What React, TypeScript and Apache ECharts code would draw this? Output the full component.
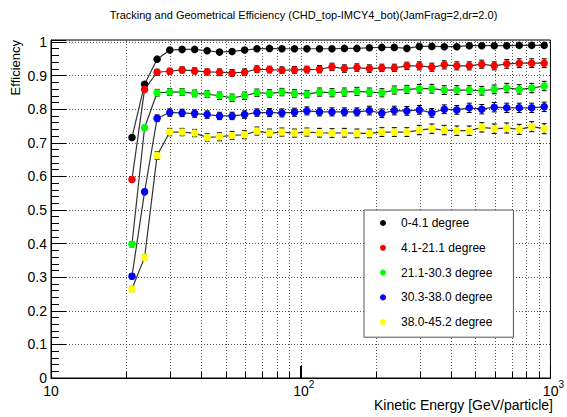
import React, { useEffect, useRef } from 'react';
import * as echarts from 'echarts';

const FONT = '"Liberation Sans", Arial, Helvetica, sans-serif';

const titleText = 'Tracking and Geometrical Efficiency (CHD_top-IMCY4_bot)(JamFrag=2,dr=2.0)';
const xTitle = 'Kinetic Energy [GeV/particle]';
const yTitle = 'Efficiency';

// bin centres (GeV/particle)
const energy = [21.1, 23.7, 26.6, 29.9, 33.5, 37.6, 42.2, 47.3, 53.1, 59.6, 66.8, 75.0, 84.1, 94.4,
  105.9, 118.9, 133.4, 149.6, 167.9, 188.4, 211.3, 237.1, 266.1, 298.5, 335.0, 375.8, 421.7, 473.2,
  530.9, 595.7, 668.3, 749.9, 841.4, 944.1];

const seriesNames = ['0-4.1 degree', '4.1-21.1 degree', '21.1-30.3 degree', '30.3-38.0 degree', '38.0-45.2 degree'];
const seriesColors = ['#000000', '#ff0000', '#00ff00', '#0000ff', '#ffff00'];

const eff0 = [0.716, 0.874, 0.949, 0.976, 0.978, 0.978, 0.974, 0.970, 0.972, 0.976, 0.980, 0.981, 0.980, 0.980,
  0.980, 0.980, 0.980, 0.981, 0.981, 0.983, 0.984, 0.984, 0.981, 0.987, 0.987, 0.986, 0.986, 0.989, 0.989,
  0.989, 0.989, 0.990, 0.990, 0.990];
const eff1 = [0.591, 0.859, 0.910, 0.913, 0.917, 0.914, 0.911, 0.910, 0.908, 0.910, 0.919, 0.918, 0.916, 0.917,
  0.918, 0.919, 0.926, 0.921, 0.924, 0.921, 0.923, 0.923, 0.929, 0.929, 0.925, 0.932, 0.929, 0.929, 0.934,
  0.929, 0.935, 0.937, 0.937, 0.937];
const eff2 = [0.398, 0.745, 0.849, 0.851, 0.851, 0.847, 0.845, 0.840, 0.834, 0.840, 0.849, 0.847, 0.851, 0.847,
  0.845, 0.851, 0.849, 0.851, 0.853, 0.851, 0.849, 0.857, 0.859, 0.861, 0.861, 0.857, 0.857, 0.857, 0.855,
  0.859, 0.863, 0.859, 0.863, 0.869];
const eff3 = [0.303, 0.554, 0.773, 0.790, 0.789, 0.787, 0.784, 0.780, 0.780, 0.784, 0.790, 0.790, 0.789, 0.791,
  0.795, 0.792, 0.792, 0.792, 0.792, 0.796, 0.788, 0.796, 0.795, 0.798, 0.789, 0.800, 0.798, 0.804, 0.800,
  0.806, 0.804, 0.804, 0.804, 0.807];
const eff4 = [0.265, 0.359, 0.662, 0.732, 0.732, 0.729, 0.716, 0.718, 0.722, 0.724, 0.735, 0.729, 0.732, 0.729,
  0.732, 0.730, 0.729, 0.730, 0.728, 0.728, 0.732, 0.732, 0.732, 0.738, 0.742, 0.738, 0.736, 0.736, 0.746,
  0.742, 0.744, 0.740, 0.748, 0.742];

const err0 = [0.006, 0.005, 0.004, 0.003, 0.003, 0.003, 0.003, 0.003, 0.003, 0.003, 0.003, 0.003, 0.003, 0.003,
  0.003, 0.003, 0.003, 0.003, 0.003, 0.004, 0.004, 0.004, 0.004, 0.004, 0.004, 0.004, 0.004, 0.004, 0.004,
  0.004, 0.004, 0.004, 0.004, 0.004];
const err1 = [0.007, 0.006, 0.009, 0.009, 0.009, 0.009, 0.009, 0.010, 0.010, 0.010, 0.010, 0.010, 0.010, 0.010,
  0.010, 0.011, 0.011, 0.011, 0.011, 0.011, 0.011, 0.011, 0.011, 0.012, 0.012, 0.012, 0.012, 0.012, 0.012,
  0.012, 0.013, 0.013, 0.013, 0.013];
const err2 = [0.008, 0.007, 0.010, 0.010, 0.010, 0.010, 0.010, 0.011, 0.011, 0.011, 0.011, 0.011, 0.011, 0.011,
  0.011, 0.012, 0.012, 0.012, 0.012, 0.012, 0.012, 0.012, 0.012, 0.013, 0.013, 0.013, 0.013, 0.013, 0.013,
  0.013, 0.014, 0.014, 0.014, 0.014];
const err3 = [0.008, 0.008, 0.010, 0.011, 0.011, 0.011, 0.011, 0.011, 0.011, 0.011, 0.011, 0.012, 0.012, 0.012,
  0.012, 0.012, 0.012, 0.012, 0.012, 0.013, 0.013, 0.013, 0.013, 0.013, 0.013, 0.013, 0.013, 0.014, 0.014,
  0.014, 0.014, 0.014, 0.014, 0.014];
const err4 = [0.008, 0.008, 0.011, 0.011, 0.011, 0.011, 0.011, 0.012, 0.012, 0.012, 0.012, 0.012, 0.012, 0.012,
  0.012, 0.013, 0.013, 0.013, 0.013, 0.013, 0.013, 0.013, 0.013, 0.014, 0.014, 0.014, 0.014, 0.014, 0.014,
  0.014, 0.015, 0.015, 0.015, 0.015];

const effs = [eff0, eff1, eff2, eff3, eff4];
const errs = [err0, err1, err2, err3, err4];

// log-axis tick positions (minor + major) for the vertical dotted grid
const xGridTicks = [20, 30, 40, 50, 60, 70, 80, 90, 100, 200, 300, 400, 500, 600, 700, 800, 900];
const xMajor = [10, 100, 1000];

const Y_MIN = 0;
const Y_MAX = 1.006;

function buildOption() {
  const series: any[] = [];

  // vertical dotted grid + minor ticks on the log x axis
  series.push({
    type: 'custom',
    name: 'xgrid',
    silent: true,
    z: 1,
    data: xGridTicks.map((v) => [v, Y_MIN]),
    encode: { x: 0, y: 1 },
    renderItem: (params: any, api: any) => {
      const v = api.value(0);
      const p0 = api.coord([v, Y_MIN]);
      const p1 = api.coord([v, Y_MAX]);
      const x = Math.round(p0[0]) + 0.5;
      const isMajor = xMajor.indexOf(v) >= 0;
      return {
        type: 'group',
        children: [
          {
            type: 'line',
            shape: { x1: x, y1: p0[1], x2: x, y2: p1[1] },
            style: { stroke: '#555', lineWidth: 1, lineDash: [1, 2] },
          },
          {
            type: 'line',
            shape: { x1: x, y1: p0[1], x2: x, y2: p0[1] - (isMajor ? 12 : 6) },
            style: { stroke: '#000', lineWidth: 1 },
          },
        ],
      };
    },
  });

  seriesNames.forEach((name, k) => {
    const eff = effs[k];
    const err = errs[k];
    series.push({
      type: 'custom',
      name: name + ' err',
      silent: true,
      z: 2,
      data: energy.map((x, i) => [x, eff[i], err[i]]),
      encode: { x: 0, y: 1 },
      renderItem: (params: any, api: any) => {
        const x = api.value(0);
        const y = api.value(1);
        const e = api.value(2);
        const hi = api.coord([x, y + e]);
        const lo = api.coord([x, y - e]);
        const cw = 2.5;
        const st = { stroke: '#000', lineWidth: 1 };
        return {
          type: 'group',
          children: [
            { type: 'line', shape: { x1: hi[0], y1: hi[1], x2: lo[0], y2: lo[1] }, style: st },
            { type: 'line', shape: { x1: hi[0] - cw, y1: hi[1], x2: hi[0] + cw, y2: hi[1] }, style: st },
            { type: 'line', shape: { x1: lo[0] - cw, y1: lo[1], x2: lo[0] + cw, y2: lo[1] }, style: st },
          ],
        };
      },
    });
    series.push({
      type: 'line',
      name,
      z: 3,
      data: energy.map((x, i) => [x, eff[i]]),
      symbol: 'circle',
      symbolSize: 7.5,
      itemStyle: { color: seriesColors[k], borderWidth: 0 },
      lineStyle: { color: '#333', width: 1.2 },
      emphasis: { disabled: true },
    });
  });

  return {
    animation: false,
    backgroundColor: '#ffffff',
    grid: {
      left: 51,
      top: 40,
      width: 501,
      height: 338,
      show: true,
      borderColor: '#000',
      borderWidth: 1,
      backgroundColor: '#fff',
      containLabel: false,
    },
    legend: {
      orient: 'vertical',
      left: 364,
      top: 210,
      data: seriesNames.map((n) => ({ name: n, icon: 'circle' })),
      itemWidth: 6,
      itemHeight: 6,
      itemGap: 10.8,
      padding: [6, 21, 8, 16],
      backgroundColor: '#fff',
      borderColor: '#555',
      borderWidth: 1,
      borderRadius: 0,
      selectedMode: false,
      textStyle: { fontFamily: FONT, fontSize: 12, color: '#000', lineHeight: 14, padding: [0, 0, 0, 10] },
    },
    xAxis: {
      type: 'log',
      logBase: 10,
      min: 10,
      max: 1000,
      axisLine: { show: true, lineStyle: { color: '#000', width: 1 } },
      axisTick: { show: true, inside: true, length: 12, lineStyle: { color: '#000' } },
      splitLine: { show: false },
      minorTick: { show: false },
      axisLabel: {
        margin: 5,
        color: '#000',
        fontFamily: FONT,
        formatter: (v: number) => {
          const n = Math.round(Math.log10(v));
          if (n === 1) return '{b|10}';
          return '{bp|10}{s|' + n + '}';
        },
        rich: {
          b: { fontFamily: FONT, fontSize: 14, lineHeight: 14, padding: [2, 0, 0, 0], color: '#000' },
          bp: { fontFamily: FONT, fontSize: 14, lineHeight: 14, padding: [2, 0, 0, 6], color: '#000' },
          s: { fontFamily: FONT, fontSize: 10, lineHeight: 5, padding: [0, 0, 11, 0], color: '#000' },
        },
      },
    },
    yAxis: {
      type: 'value',
      min: Y_MIN,
      max: Y_MAX,
      interval: 0.1,
      axisLine: { show: true, lineStyle: { color: '#000', width: 1 } },
      axisTick: { show: true, inside: true, length: 15, lineStyle: { color: '#000' } },
      minorTick: { show: true, splitNumber: 5, length: 8, lineStyle: { color: '#000' } },
      splitLine: { show: true, lineStyle: { color: '#555', width: 1, type: [1, 2] } },
      axisLabel: {
        margin: 4,
        color: '#000',
        fontFamily: FONT,
        fontSize: 14,
        lineHeight: 10,
        formatter: (v: number) => {
          const r = Math.round(v * 10) / 10;
          if (Math.abs(r - v) > 1e-6) return '';
          return String(r);
        },
      },
    },
    graphic: [
      {
        type: 'text',
        x: 303.5,
        y: 14.5,
        style: {
          text: titleText,
          fontFamily: FONT,
          fontSize: 11,
          fill: '#000',
          align: 'center',
          verticalAlign: 'middle',
        },
      },
      {
        type: 'text',
        x: 553,
        y: 405,
        style: {
          text: xTitle,
          fontFamily: FONT,
          fontSize: 14,
          fill: '#000',
          align: 'right',
          verticalAlign: 'middle',
        },
      },
      {
        type: 'text',
        x: 15,
        y: 40,
        rotation: Math.PI / 2,
        style: {
          text: yTitle,
          fontFamily: FONT,
          fontSize: 13,
          fill: '#000',
          align: 'right',
          verticalAlign: 'middle',
        },
      },
    ],
    series,
  };
}

export default function App() {
  const ref = useRef<HTMLDivElement>(null);
  useEffect(() => {
    if (!ref.current) return;
    const chart = echarts.init(ref.current, null, { renderer: 'svg' });
    chart.setOption(buildOption() as any);
    return () => {
      chart.dispose();
    };
  }, []);
  return (
    <div
      ref={ref}
      style={{ position: 'absolute', left: 0, top: 0, width: 567, height: 417, background: '#fff' }}
    />
  );
}
